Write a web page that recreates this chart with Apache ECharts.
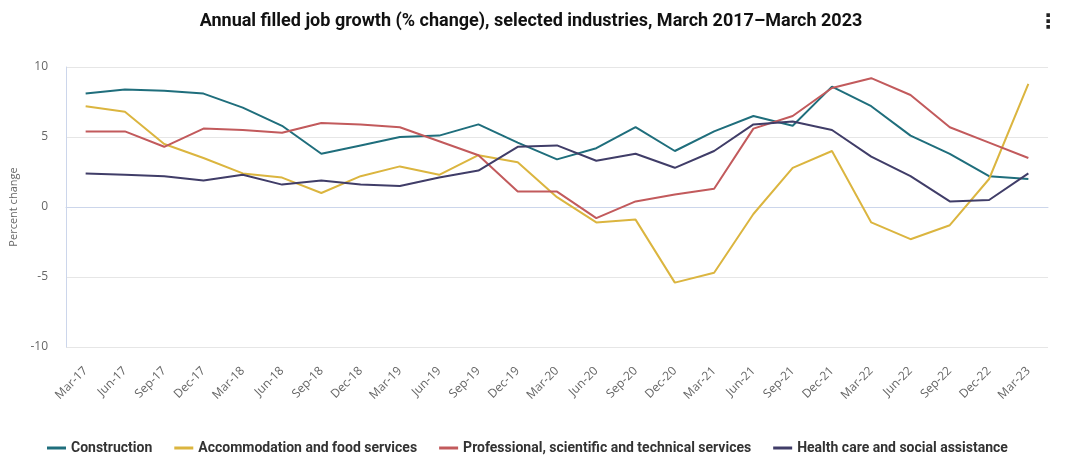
<!DOCTYPE html>
<html>
<head>
<meta charset="utf-8">
<script src="https://cdn.jsdelivr.net/npm/echarts@6/dist/echarts.min.js"></script>
<style>html,body{margin:0;padding:0;background:#fff}#c{width:1083px;height:456px}</style>
</head>
<body>
<div id="c"></div>
<script>
const categories = ["Mar-17","Jun-17","Sep-17","Dec-17","Mar-18","Jun-18","Sep-18","Dec-18","Mar-19","Jun-19","Sep-19","Dec-19","Mar-20","Jun-20","Sep-20","Dec-20","Mar-21","Jun-21","Sep-21","Dec-21","Mar-22","Jun-22","Sep-22","Dec-22","Mar-23"];
const construction = [8.1,8.4,8.3,8.1,7.1,5.8,3.8,4.4,5.0,5.1,5.9,4.6,3.4,4.2,5.7,4.0,5.4,6.5,5.8,8.6,7.2,5.1,3.8,2.2,2.0];
const accommodation = [7.2,6.8,4.5,3.5,2.4,2.1,1.0,2.2,2.9,2.3,3.7,3.2,0.7,-1.1,-0.9,-5.4,-4.7,-0.5,2.8,4.0,-1.1,-2.3,-1.3,2.0,8.8];
const professional = [5.4,5.4,4.3,5.6,5.5,5.3,6.0,5.9,5.7,4.7,3.7,1.1,1.1,-0.8,0.4,0.9,1.3,5.6,6.5,8.5,9.2,8.0,5.7,4.6,3.5];
const health = [2.4,2.3,2.2,1.9,2.3,1.6,1.9,1.6,1.5,2.1,2.6,4.3,4.4,3.3,3.8,2.8,4.0,5.9,6.1,5.5,3.6,2.2,0.4,0.5,2.4];
const seriesNames = ["Construction","Accommodation and food services","Professional, scientific and technical services","Health care and social assistance"];
const colors = ["#1f6e7c","#dbb53f","#c25a5c","#403d68"];
const yTicks = [-10,-5,0,5,10];

const chart = echarts.init(document.getElementById('c'), null, {renderer:'canvas'});
const dataSets = [construction, accommodation, professional, health];
chart.setOption({
  animation:false,
  color: colors,
  title:{
    text:"Annual filled job growth (% change), selected industries, March 2017\u2013March 2023",
    left:526, textAlign:'center', top:7,
    textStyle:{fontFamily:'Roboto', fontWeight:'bold', fontSize:18, color:'#111'}
  },
  graphic:[{type:'text', left:1038, top:13, style:{text:'\u22EE', font:'bold 20px DejaVu Sans', fill:'#222'}}],
  grid:{left:66, right:35, top:67, bottom:109, containLabel:false},
  legend:{
    top:436, left:42,
    icon:'rect', itemWidth:19, itemHeight:3, itemGap:22,
    textStyle:{fontFamily:'Roboto', fontWeight:'bold', fontSize:14, color:'#333'},
    data: seriesNames
  },
  xAxis:{
    type:'category', data:categories, boundaryGap:true,
    axisLine:{lineStyle:{color:'#ccd6eb'}},
    axisTick:{alignWithLabel:true, length:10, lineStyle:{color:'#ccd6eb'}},
    axisLabel:{rotate:45, fontSize:12, color:'#666', fontFamily:'Open Sans', margin:22, interval:0}
  },
  yAxis:{
    type:'value', min:-10, max:10, interval:5,
    name:'Percent change', nameLocation:'middle', nameGap:43, nameRotate:90,
    nameTextStyle:{fontSize:11, color:'#666', fontFamily:'Open Sans'},
    axisLine:{show:true, lineStyle:{color:'#ccd6eb'}},
    axisTick:{show:false},
    axisLabel:{fontSize:12, color:'#666', fontFamily:'Open Sans', margin:18,
      formatter: v => yTicks.includes(v) ? String(v) : ''},
    splitLine:{lineStyle:{color:'#e6e6e6'}}
  },
  series: seriesNames.map((n,i)=>({
    name:n, type:'line', data:dataSets[i], showSymbol:false, symbol:'none',
    lineStyle:{width:2, color:colors[i]}, itemStyle:{color:colors[i]}
  }))
});
</script>
</body>
</html>
